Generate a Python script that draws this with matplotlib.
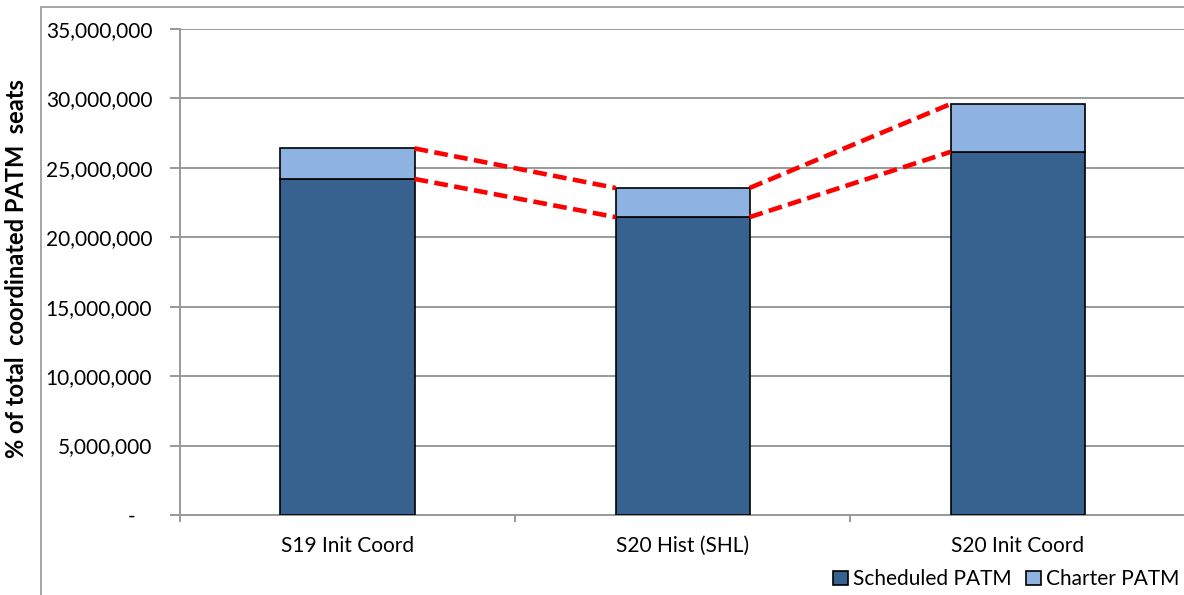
"""Stacked seats chart: scheduled vs charter PATM."""

import matplotlib.pyplot as plt
from matplotlib.patches import Rectangle
from matplotlib.ticker import FuncFormatter

plt.rcParams["font.family"] = ["Lato", "DejaVu Sans"]

categories = ["S19 Init Coord", "S20 Hist (SHL)", "S20 Init Coord"]
scheduled = [24.2e6, 21.45e6, 26.15e6]
charter = [2.2e6, 2.1e6, 3.45e6]

DARK = "#37618f"
LIGHT = "#8eb3e2"
GRID = "#999999"
BAR_W = 0.4
FS = 15

fig = plt.figure(figsize=(11.84, 5.95), dpi=100)
ax = fig.add_axes([0.152, 0.1345, 0.849, 0.8168])

x = list(range(len(categories)))
ax.bar(x, scheduled, width=BAR_W, color=DARK, edgecolor="black", linewidth=1.2,
       label="Scheduled PATM", zorder=3)
ax.bar(x, charter, width=BAR_W, bottom=scheduled, color=LIGHT, edgecolor="black",
       linewidth=1.2, label="Charter PATM", zorder=3)

totals = [s + c for s, c in zip(scheduled, charter)]
for i in range(len(categories) - 1):
    for level in (scheduled, totals):
        ax.plot([i + BAR_W / 2, i + 1 - BAR_W / 2], [level[i], level[i + 1]],
                color="#ff0000", linestyle=(0, (3.0, 1.4)), linewidth=3.3, zorder=4)

ax.set_xlim(-0.5, len(categories) - 0.5)
ax.set_ylim(0, 35e6)
ax.set_yticks([i * 5e6 for i in range(8)])
ax.yaxis.set_major_formatter(FuncFormatter(lambda v, _: "-   " if v == 0 else f"{v:,.0f}"))
ax.grid(axis="y", color=GRID, linewidth=1.4, zorder=0)
ax.set_axisbelow(True)

ax.set_xticks(x)
ax.set_xticklabels(categories)
ax.set_xticks([-0.5, 0.5, 1.5, 2.5], minor=True)
ax.tick_params(axis="x", which="major", length=0, pad=15, labelsize=FS)
ax.tick_params(axis="x", which="minor", length=5, color=GRID, width=1.4)
ax.tick_params(axis="y", length=7, color=GRID, width=1.4, labelsize=FS, pad=13)

for side in ("top", "right"):
    ax.spines[side].set_visible(False)
for side in ("left", "bottom"):
    ax.spines[side].set_color(GRID)
    ax.spines[side].set_linewidth(1.4)

ax.set_ylabel("% of total  coordinated PATM  seats", fontsize=17, fontweight="bold")
ax.yaxis.set_label_coords(-0.151, 0.508)

fig.legend(loc="lower right", bbox_to_anchor=(1.012, -0.022), ncol=2, frameon=False,
           fontsize=FS, handlelength=0.7, handleheight=0.7, handletextpad=0.25,
           columnspacing=0.7)

# outer chart frame (cut off at right and bottom)
fig.patches.append(Rectangle((41 / 1184, -0.1), 2, 1.1 - 7 / 595, transform=fig.transFigure,
                             fill=False, edgecolor="#a6a6a6", linewidth=1.4))

fig.savefig("out.png", dpi=100)
